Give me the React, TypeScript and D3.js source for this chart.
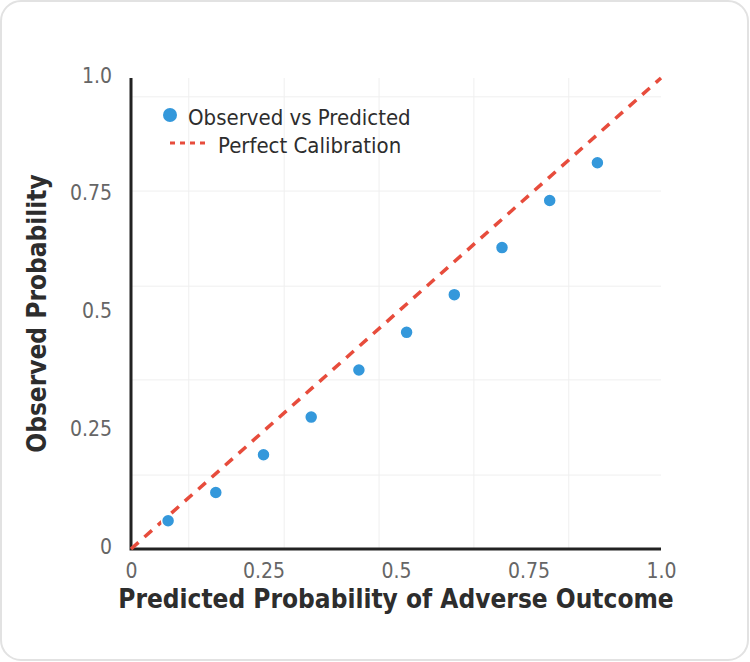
import React, { useEffect, useRef } from "react";
import * as d3 from "d3";

// Calibration bins: mean predicted vs observed rate
const predicted = [0.07, 0.16, 0.25, 0.34, 0.43, 0.52, 0.61, 0.7, 0.79, 0.88];
const observed = [0.06, 0.12, 0.2, 0.28, 0.38, 0.46, 0.54, 0.64, 0.74, 0.82];

const tickValues = [0, 0.25, 0.5, 0.75, 1.0];
const tickLabels = ["0", "0.25", "0.5", "0.75", "1.0"];

// light background grid
const gridX = [0.109, 0.289, 0.468, 0.647, 0.826];
const gridY = [0.157, 0.359, 0.558, 0.76, 0.96];

const perfectLine: [number, number][] = [
    [0, 0],
    [1, 1],
];

const legendItems = ["Observed vs Predicted", "Perfect Calibration"];

const FONT = "'DejaVu Sans Condensed', 'DejaVu Sans', sans-serif";

const CalibrationChart: React.FC = () => {
    const svgRef = useRef<SVGSVGElement>(null);
    const width = 750;
    const height = 662;

    useEffect(() => {
        if (!svgRef.current) return;
        const svg = d3.select(svgRef.current);
        svg.selectAll("*").remove();

        const margin = { top: 78, right: 89, bottom: 113, left: 131 };
        const innerWidth = width - margin.left - margin.right;
        const innerHeight = height - margin.top - margin.bottom;

        const x = d3.scaleLinear().domain([0, 1]).range([0, innerWidth]);
        const y = d3.scaleLinear().domain([0, 1]).range([innerHeight, 0]);

        // card
        svg.append("rect")
            .attr("x", 1)
            .attr("y", 1)
            .attr("width", width - 3)
            .attr("height", height - 3)
            .attr("rx", 20)
            .attr("fill", "#fff")
            .attr("stroke", "#e2e2e2")
            .attr("stroke-width", 2);

        const g = svg
            .append("g")
            .attr("transform", `translate(${margin.left},${margin.top})`);

        // grid
        g.append("g")
            .selectAll("line")
            .data(gridX)
            .join("line")
            .attr("x1", (d) => x(d))
            .attr("x2", (d) => x(d))
            .attr("y1", 0)
            .attr("y2", innerHeight)
            .attr("stroke", "#efefef")
            .attr("stroke-width", 1);

        g.append("g")
            .selectAll("line")
            .data(gridY)
            .join("line")
            .attr("x1", 0)
            .attr("x2", innerWidth)
            .attr("y1", (d) => y(d))
            .attr("y2", (d) => y(d))
            .attr("stroke", "#efefef")
            .attr("stroke-width", 1);

        // X axis
        const xAxis = g
            .append("g")
            .attr("transform", `translate(0,${innerHeight})`)
            .call(
                d3
                    .axisBottom(x)
                    .tickValues(tickValues)
                    .tickFormat((_, i) => tickLabels[i])
                    .tickSize(0)
                    .tickPadding(14)
            );
        xAxis.select(".domain").remove();
        xAxis
            .selectAll("text")
            .attr("font-family", FONT)
            .attr("font-size", 21)
            .attr("fill", "#666");

        // Y axis
        const yAxis = g.append("g").call(
            d3
                .axisLeft(y)
                .tickValues(tickValues)
                .tickFormat((_, i) => tickLabels[i])
                .tickSize(0)
                .tickPadding(19)
        );
        yAxis.select(".domain").remove();
        yAxis
            .selectAll("text")
            .attr("font-family", FONT)
            .attr("font-size", 21)
            .attr("fill", "#666")
            .attr("dy", "0.2em");

        // axis lines
        g.append("path")
            .attr("d", `M0,0V${innerHeight}H${innerWidth}`)
            .attr("fill", "none")
            .attr("stroke", "#222")
            .attr("stroke-width", 3);

        // perfect calibration diagonal
        const line = d3
            .line<[number, number]>()
            .x((d) => x(d[0]))
            .y((d) => y(d[1]));

        g.append("path")
            .datum(perfectLine)
            .attr("d", line)
            .attr("fill", "none")
            .attr("stroke", "#e74c3c")
            .attr("stroke-width", 3.5)
            .attr("stroke-dasharray", "10,8");

        // observed points
        g.selectAll("circle.pt")
            .data(predicted)
            .join("circle")
            .attr("class", "pt")
            .attr("cx", (d) => x(d))
            .attr("cy", (_, i) => y(observed[i]))
            .attr("r", 6.5)
            .attr("fill", "#3498db")
            .attr("stroke", "#fff")
            .attr("stroke-width", 1.5);

        // axis titles
        svg.append("text")
            .attr("x", margin.left + innerWidth / 2)
            .attr("y", 608)
            .attr("text-anchor", "middle")
            .attr("font-family", FONT)
            .attr("font-weight", "bold")
            .attr("font-size", 26)
            .attr("fill", "#2d2d2d")
            .text("Predicted Probability of Adverse Outcome");

        svg.append("text")
            .attr("transform", `translate(46,${margin.top + innerHeight / 2}) rotate(-90)`)
            .attr("text-anchor", "middle")
            .attr("font-family", FONT)
            .attr("font-weight", "bold")
            .attr("font-size", 26)
            .attr("fill", "#2d2d2d")
            .text("Observed Probability");

        // legend
        const legend = svg.append("g").attr("transform", "translate(170,115)");
        legend
            .append("circle")
            .attr("cx", 0)
            .attr("cy", 0)
            .attr("r", 7)
            .attr("fill", "#3498db");
        legend
            .append("line")
            .attr("x1", 0)
            .attr("x2", 37)
            .attr("y1", 28)
            .attr("y2", 28)
            .attr("stroke", "#e74c3c")
            .attr("stroke-width", 3)
            .attr("stroke-dasharray", "5,5");
        legend
            .selectAll("text")
            .data(legendItems)
            .join("text")
            .attr("x", (_, i) => (i === 0 ? 18 : 48))
            .attr("y", (_, i) => 2 + i * 28)
            .attr("dy", "0.35em")
            .attr("font-family", FONT)
            .attr("font-size", 22)
            .attr("fill", "#2d2d2d")
            .text((d) => d);
    }, []);

    return (
        <div style={{ position: "absolute", left: 0, top: 0 }}>
            <svg ref={svgRef} width={width} height={height} style={{ display: "block" }}></svg>
        </div>
    );
};

export default function App() {
    return <CalibrationChart />;
}
